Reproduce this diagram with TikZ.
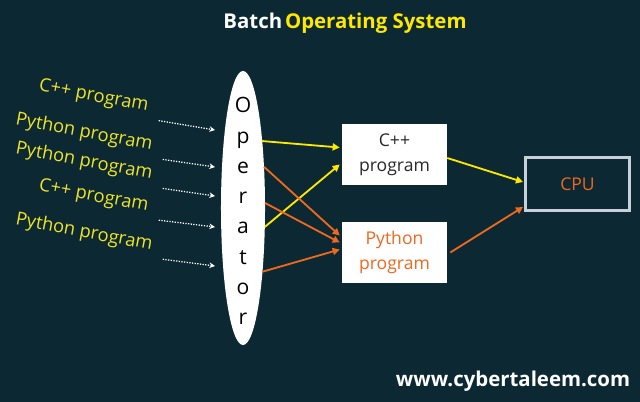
\documentclass[tikz,border=0pt]{standalone}
\usepackage{fontspec}
\setmainfont{Open Sans}
\definecolor{bgteal}{RGB}{12,41,51}
\definecolor{jobyellow}{RGB}{240,228,40}
\definecolor{lineyellow}{RGB}{255,232,0}
\definecolor{pyorange}{RGB}{238,104,30}
\definecolor{cpugray}{RGB}{198,208,216}
\definecolor{boxtext}{RGB}{40,40,40}
\usetikzlibrary{arrows.meta,positioning,shapes.geometric,calc}

\begin{document}
\begin{tikzpicture}[x=0.025cm, y=-0.025cm,
    job/.style={text=jobyellow, rotate=-10.5, anchor=south east, inner sep=2pt,
      font=\fontsize{13}{15}\selectfont},
    feed/.style={-{Stealth[length=4pt,width=4pt]}, white, densely dotted, line width=0.9pt, shorten <=7pt},
    box/.style={rectangle, fill=white, minimum width=2.625cm, minimum height=1.525cm,
      align=center, inner sep=0pt, font=\fontsize{12.5}{17.7}\selectfont},
    ylw/.style={-{Triangle[length=5pt,width=5pt]}, lineyellow, line width=1.3pt},
    org/.style={-{Triangle[length=5pt,width=5pt]}, pyorange, line width=1.3pt}
  ]
    % Background
    \fill[bgteal] (0,0) rectangle (640,402);
    \useasboundingbox (0,0) rectangle (640,402);

    % Title
    \node[font=\bfseries\fontsize{14.5}{17}\selectfont, text=lineyellow] (title) at (345,23)
      {\textcolor{white}{Batch}\hspace{2pt}Operating System};

    % Operator
    \node[ellipse, fill=white, minimum width=1.1cm, minimum height=6.85cm, inner sep=0pt, outer sep=0pt] (op) at (243,208) {};
    \node[align=center, font=\fontsize{15}{21.5}\selectfont] (oplbl) at ($(op.center)+(0,3)$) {O\\p\\e\\r\\a\\t\\o\\r};

    % Incoming jobs
    \node[job] (job1) at (149,119) {C++ program};
    \node[job] (job2) at (153,158) {Python program};
    \node[job] (job3) at (153,187) {Python program};
    \node[job] (job4) at (149,219) {C++ program};
    \node[job] (job5) at (153,258) {Python program};

    \coordinate (q1) at (215,130);
    \coordinate (q2) at (215,167);
    \coordinate (q3) at (215,196);
    \coordinate (q4) at (215,227);
    \coordinate (q5) at (215,266);

    \draw[feed] (job1.south east) -- (q1);
    \draw[feed] (job2.south east) -- (q2);
    \draw[feed] (job3.south east) -- (q3);
    \draw[feed] (job4.south east) -- (q4);
    \draw[feed] (job5.south east) -- (q5);

    % Grouped programs
    \node[box, text=boxtext]  (cpp) at (394.5,154.5) {C++\\program};
    \node[box, text=pyorange] (py)  at (394.5,252.5) {Python\\program};

    % CPU
    \node[draw=cpugray, line width=2.1pt, minimum width=2.6cm, minimum height=1.325cm,
      text=pyorange, font=\fontsize{12.5}{15}\selectfont] (cpu) at (577.5,184) {CPU};

    \draw[ylw] (op.74)  -- ($(cpp.west)+(-2,-7)$);
    \draw[ylw] (op.-41) -- ($(cpp.west)+(-2,10)$);
    \draw[org] (op.63)  -- ($(py.west)+(-2,-17)$);
    \draw[org] (op.13)  -- ($(py.west)+(-2,-10)$);
    \draw[org] (op.-73) -- ($(py.west)+(-2,-3)$);

    \draw[ylw] ($(cpp.east)+(0,3.5)$) -- ($(cpu.west)+(-1,-2)$);
    \draw[org] ($(py.east)+(3,0)$)    -- ($(cpu.west)+(-1,23)$);

    % Site
    \node[font=\bfseries\fontsize{14.5}{17}\selectfont, text=white] (url) at (513,381) {www.cybertaleem.com};
  \end{tikzpicture}
\end{document}
